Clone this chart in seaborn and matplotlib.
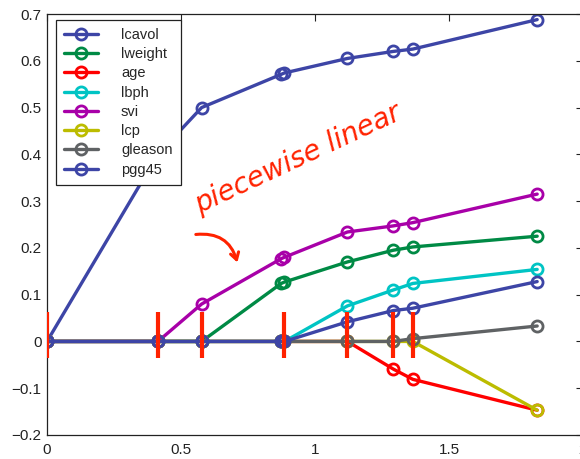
import numpy as np
import pandas as pd
import matplotlib
matplotlib.use("Agg")
import matplotlib.pyplot as plt
import seaborn as sns

# breakpoints of the path (x) and coefficient values for each variable
steps   = [0.0, 0.414, 0.577, 0.874, 0.886, 1.121, 1.292, 1.365, 1.829]
lcavol  = [0.0, 0.400, 0.500, 0.571, 0.574, 0.605, 0.620, 0.625, 0.688]
lweight = [0.0, 0.000, 0.000, 0.124, 0.127, 0.170, 0.195, 0.202, 0.225]
age     = [0.0, 0.000, 0.000, 0.000, 0.000, 0.000, -0.059, -0.081, -0.147]
lbph    = [0.0, 0.000, 0.000, 0.000, 0.000, 0.076, 0.110, 0.124, 0.154]
svi     = [0.0, 0.000, 0.080, 0.177, 0.180, 0.234, 0.247, 0.254, 0.315]
lcp     = [0.0, 0.000, 0.000, 0.000, 0.000, 0.000, 0.000, 0.000, -0.147]
gleason = [0.0, 0.000, 0.000, 0.000, 0.000, 0.000, 0.000, 0.006, 0.033]
pgg45   = [0.0, 0.000, 0.000, 0.000, 0.000, 0.042, 0.066, 0.071, 0.128]

names = ["lcavol", "lweight", "age", "lbph", "svi", "lcp", "gleason", "pgg45"]
values = [lcavol, lweight, age, lbph, svi, lcp, gleason, pgg45]
colors = ["#3d45a6", "#008a45", "#ff0000", "#00c4c4", "#a800a8",
          "#bcbc00", "#5f6264", "#3d45a6"]

xticks = [0, 0.5, 1, 1.5, 2]
xticklabels = ["0", "0.5", "1", "1.5", "2"]
yticks = [-0.2, -0.1, 0, 0.1, 0.2, 0.3, 0.4, 0.5, 0.6, 0.7]
yticklabels = ["\u22120.2", "\u22120.1", "0", "0.1", "0.2", "0.3", "0.4", "0.5", "0.6", "0.7"]

# breakpoints marked by hand in red
marked = sorted(set([steps[0], steps[1], steps[2], steps[4], steps[5], steps[6], steps[7]]))

sns.set_style("white")
plt.rcParams["font.family"] = ["Liberation Sans", "DejaVu Sans"]

fig = plt.figure(figsize=(5.8, 4.59), dpi=100)
ax = fig.add_axes([47 / 580, 1 - 435 / 459, 536 / 580, 421 / 459])

df = pd.DataFrame({"step": np.tile(steps, len(names)),
                   "coef": np.concatenate(values),
                   "var": np.repeat(names, len(steps))})

for name, col in zip(names, colors):
    sub = df[df["var"] == name]
    sns.lineplot(data=sub, x="step", y="coef", ax=ax, color=col, lw=2.4,
                 marker="o", markersize=8, markerfacecolor="none",
                 markeredgecolor=col, markeredgewidth=2, label=name,
                 estimator=None, sort=True)

ax.set_xlim(0, 2)
ax.set_ylim(-0.2, 0.7)
ax.set_xticks(xticks)
ax.set_xticklabels(xticklabels)
ax.set_yticks(yticks)
ax.set_yticklabels(yticklabels)
ax.set_xlabel("")
ax.set_ylabel("")
ax.tick_params(direction="in", length=5, width=0.8, top=True, right=True,
               labelsize=11, colors="#222222", pad=4)
ax.tick_params(axis="x", pad=6)
for s in ax.spines.values():
    s.set_visible(True)
    s.set_color("#222222")
    s.set_linewidth(0.9)

leg = ax.legend(loc="upper left", bbox_to_anchor=(0.017, 0.986), borderaxespad=0,
                fontsize=10.5, handlelength=2.3, handletextpad=1.6,
                labelspacing=0.36, fancybox=False, framealpha=1,
                edgecolor="#222222", borderpad=0.55)
leg.get_frame().set_linewidth(0.9)

# hand annotations
ax.vlines(marked, -0.035, 0.062, colors="#ff2200", lw=3.0, zorder=10)
ax.text(0.935, 0.39, "piecewise linear", rotation=25, color="#ff2200",
        fontsize=20, fontstyle="italic", ha="center", va="center",
        family=["DejaVu Sans"])
ax.annotate("", xy=(0.713, 0.163), xytext=(0.545, 0.228),
            arrowprops=dict(arrowstyle="->,head_length=0.5,head_width=0.3",
                            color="#ff2200", lw=2.2,
                            connectionstyle="arc3,rad=-0.45"))

fig.savefig("out.png", dpi=100)
